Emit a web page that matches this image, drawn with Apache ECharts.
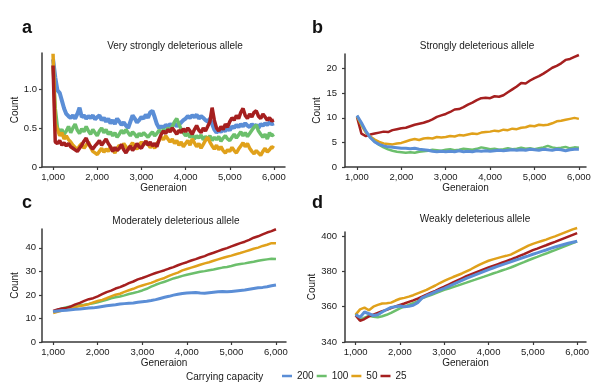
<!DOCTYPE html>
<html><head><meta charset="utf-8">
<script src="https://cdn.jsdelivr.net/npm/echarts@6/dist/echarts.min.js"></script>
<style>html,body{margin:0;padding:0;background:#fff}#c{width:600px;height:390px}</style>
</head><body><div id="c"></div>
<script>
// ---------- DATA ----------
const capacities = ['200', '100', '50', '25'];
const xTickValues = [1000, 2000, 3000, 4000, 5000, 6000];
const panelTitles = ['Very strongly deleterious allele', 'Strongly deleterious allele', 'Moderately deleterious allele', 'Weakly deleterious allele'];
const panelLetters = ['a', 'b', 'c', 'd'];
const yTicksA = [0, 0.5, 1.0];
const yTicksB = [0, 5, 10, 15, 20];
const yTicksC = [0, 10, 20, 30, 40];
const yTicksD = [340, 360, 380, 400];

// generations: panel a sampled every 50, others every 100 (1000..6000)
const gensA = []; for (let g = 1000; g <= 6000; g += 50) gensA.push(g);
const gens = []; for (let g = 1000; g <= 6000; g += 100) gens.push(g);

// Panel a (every 50 generations)
const aBlue = [1.38,1.15,0.98,0.95,0.85,0.75,0.68,0.65,0.63,0.66,
 0.62,0.68,0.76,0.64,0.66,0.62,0.65,0.63,0.66,0.61,
 0.64,0.66,0.60,0.63,0.58,0.62,0.56,0.60,0.55,0.62,
 0.58,0.54,0.57,0.53,0.50,0.58,0.66,0.62,0.57,0.60,
 0.64,0.62,0.67,0.63,0.70,0.72,0.64,0.55,0.50,0.52,
 0.50,0.54,0.52,0.55,0.53,0.56,0.52,0.55,0.57,0.60,
 0.62,0.65,0.63,0.66,0.64,0.67,0.62,0.65,0.63,0.60,
 0.58,0.62,0.55,0.48,0.44,0.47,0.45,0.48,0.46,0.50,
 0.47,0.52,0.50,0.54,0.51,0.55,0.52,0.56,0.53,0.51,
 0.55,0.52,0.54,0.50,0.55,0.53,0.56,0.54,0.57,0.55,
 0.56];
const aGreen = [1.30,0.75,0.50,0.45,0.48,0.42,0.46,0.52,0.44,0.50,
 0.55,0.47,0.43,0.49,0.45,0.52,0.46,0.42,0.48,0.44,
 0.40,0.46,0.50,0.44,0.48,0.42,0.45,0.40,0.44,0.38,
 0.42,0.47,0.43,0.48,0.44,0.40,0.45,0.42,0.38,0.43,
 0.40,0.44,0.41,0.38,0.42,0.45,0.40,0.43,0.47,0.44,
 0.48,0.45,0.50,0.47,0.52,0.58,0.62,0.55,0.48,0.44,
 0.40,0.43,0.38,0.42,0.36,0.40,0.37,0.41,0.35,0.39,
 0.36,0.40,0.34,0.38,0.35,0.39,0.33,0.37,0.40,0.36,
 0.34,0.38,0.42,0.37,0.41,0.45,0.40,0.44,0.39,0.43,
 0.47,0.51,0.54,0.46,0.42,0.38,0.42,0.36,0.44,0.40,
 0.42];
const aYellow = [1.45,0.55,0.48,0.40,0.44,0.36,0.40,0.35,0.32,0.28,
 0.25,0.22,0.27,0.30,0.24,0.28,0.32,0.25,0.20,0.18,
 0.16,0.20,0.24,0.19,0.23,0.20,0.26,0.22,0.18,0.24,
 0.28,0.24,0.30,0.26,0.22,0.27,0.31,0.26,0.23,0.28,
 0.32,0.28,0.33,0.29,0.25,0.28,0.24,0.30,0.34,0.38,
 0.35,0.40,0.36,0.32,0.36,0.30,0.34,0.28,0.32,0.26,
 0.30,0.34,0.28,0.36,0.31,0.26,0.30,0.24,0.29,0.34,
 0.38,0.32,0.27,0.23,0.28,0.22,0.26,0.21,0.18,0.22,
 0.20,0.25,0.21,0.18,0.23,0.27,0.31,0.26,0.30,0.24,
 0.20,0.17,0.21,0.18,0.15,0.20,0.24,0.19,0.22,0.26,
 0.24];
const aRed = [1.30,0.32,0.30,0.34,0.28,0.31,0.27,0.30,0.26,0.24,
 0.22,0.20,0.24,0.28,0.33,0.37,0.30,0.26,0.23,0.27,
 0.30,0.34,0.28,0.32,0.36,0.30,0.26,0.20,0.25,0.21,
 0.24,0.29,0.22,0.18,0.23,0.27,0.21,0.25,0.30,0.26,
 0.24,0.29,0.33,0.28,0.32,0.27,0.30,0.26,0.35,0.42,
 0.46,0.43,0.48,0.45,0.50,0.46,0.42,0.47,0.44,0.49,
 0.45,0.50,0.46,0.42,0.48,0.53,0.47,0.44,0.50,0.46,
 0.52,0.58,0.76,0.60,0.50,0.46,0.52,0.48,0.55,0.51,
 0.58,0.63,0.60,0.66,0.62,0.70,0.75,0.66,0.62,0.68,
 0.64,0.70,0.72,0.65,0.62,0.68,0.64,0.60,0.63,0.59,
 0.60];

// Panel b (every 100 generations)
const bBlue = [10.5,9.0,7.3,6.0,5.1,4.6,4.3,4.1,4.0,3.9,
 3.8,3.8,3.7,3.8,3.6,3.5,3.4,3.2,3.1,3.2,
 3.1,3.2,3.1,3.3,3.1,3.2,3.1,3.3,3.2,3.3,
 3.2,3.3,3.4,3.3,3.4,3.5,3.4,3.5,3.4,3.6,
 3.5,3.4,3.6,3.5,3.4,3.6,3.5,3.3,3.5,3.6,
 3.6];
const bGreen = [10.4,8.8,7.2,6.0,5.2,4.5,4.0,3.6,3.3,3.1,
 3.0,2.9,3.0,2.9,3.1,3.2,3.3,3.5,3.4,3.3,
 3.5,3.6,3.4,3.5,3.7,3.6,3.5,3.7,4.0,3.8,
 3.6,3.7,3.5,3.6,3.8,3.6,3.7,3.9,3.7,3.8,
 3.6,3.8,4.0,4.3,4.0,3.8,3.9,4.1,3.8,4.0,
 3.9];
const bYellow = [10.3,8.5,7.0,6.2,5.6,5.1,4.8,4.7,4.6,4.8,
 4.9,5.2,5.5,5.7,5.5,5.8,5.9,5.8,6.1,6.0,
 6.1,6.3,6.2,6.5,6.4,6.6,6.8,6.7,7.0,7.1,
 7.2,7.4,7.3,7.6,7.5,7.8,7.7,8.0,8.1,8.4,
 8.3,8.6,8.5,8.6,8.9,9.3,9.4,9.6,9.8,10.0,
 9.8];
const bRed = [10.2,6.8,6.3,6.6,6.8,7.0,7.2,7.1,7.5,7.7,
 7.9,8.0,8.3,8.6,8.8,9.0,9.3,9.7,10.2,10.5,
 10.8,11.2,11.7,11.8,12.2,12.7,13.1,13.6,14.0,14.1,
 14.0,14.4,14.3,14.6,15.2,15.8,16.4,17.1,17.0,17.6,
 18.1,18.5,19.0,19.6,20.2,20.6,21.1,21.8,22.0,22.4,
 22.8];

// Panel c
const cBlue = [13.0,13.2,13.4,13.5,13.7,13.9,14.0,14.2,14.4,14.5,
 14.8,15.1,15.4,15.6,15.8,16.1,16.3,16.5,16.6,16.9,
 17.1,17.3,17.6,18.0,18.5,19.0,19.4,19.9,20.3,20.6,
 20.8,20.9,21.0,20.8,20.7,20.9,21.1,21.3,21.4,21.3,
 21.5,21.7,21.9,22.1,22.4,22.7,23.0,23.2,23.5,23.9,
 24.2];
const cGreen = [12.8,13.6,14.3,14.8,15.1,15.3,15.6,15.8,16.1,16.5,
 16.9,17.4,17.9,18.6,19.0,19.3,19.8,20.4,20.8,21.3,
 21.9,22.6,23.5,24.3,25.0,25.6,26.3,27.0,27.5,28.1,
 28.6,29.0,29.4,29.8,30.1,30.5,30.8,31.2,31.6,31.9,
 32.3,32.8,33.1,33.4,33.8,34.1,34.5,34.8,35.1,35.4,
 35.3];
const cYellow = [12.3,12.8,13.4,14.0,14.4,14.8,15.3,15.6,16.1,16.8,
 17.4,17.9,18.6,19.4,20.1,20.5,21.3,22.0,22.6,23.4,
 24.0,24.6,25.1,25.9,26.6,27.2,28.1,28.8,29.5,30.4,
 31.0,31.6,32.2,32.8,33.4,33.9,34.5,35.1,35.7,36.2,
 36.7,37.3,37.8,38.4,39.0,39.6,40.1,40.8,41.3,42.0,
 41.9];
const cRed = [13.2,13.8,14.2,14.5,15.1,16.0,16.6,17.5,18.2,18.6,
 19.4,20.3,21.2,21.8,22.7,23.3,24.1,25.0,25.7,26.6,
 27.2,27.9,28.6,29.3,29.9,30.5,31.2,31.8,32.6,33.3,
 33.9,34.6,35.2,35.9,36.5,37.3,37.9,38.6,39.3,39.9,
 40.6,41.3,42.0,42.6,43.4,44.3,44.9,45.7,46.5,47.1,
 47.9];

// Panel d
const dBlue = [355.5,354.0,357.0,356.0,355.0,355.4,357.0,358.4,359.6,360.0,
 360.4,360.0,360.3,360.8,362.3,365.0,366.2,367.3,368.4,369.4,
 370.4,371.5,372.6,373.8,374.9,376.0,377.0,378.0,379.0,380.0,
 381.0,381.9,382.8,383.7,384.5,385.4,386.3,387.1,388.0,388.8,
 389.7,390.5,391.3,392.1,393.0,393.8,394.5,395.2,395.9,396.5,
 397.1];
const dGreen = [356.0,352.5,353.8,354.8,354.3,354.0,354.6,355.4,356.5,357.8,
 359.0,360.0,361.0,362.0,363.0,364.8,365.7,366.6,367.6,368.5,
 369.5,370.3,371.1,371.9,372.8,373.6,374.5,375.3,376.2,377.0,
 377.9,378.8,379.6,380.5,381.3,382.2,383.2,384.2,385.2,386.3,
 387.3,388.2,389.2,390.1,391.1,392.0,393.0,394.0,395.0,396.0,
 397.0];
const dYellow = [355.5,358.5,359.5,358.0,360.0,361.0,361.8,362.0,362.3,363.5,
 364.5,365.0,365.7,366.5,367.5,368.5,369.5,370.8,372.0,373.4,
 374.6,375.7,376.8,377.8,378.8,380.0,381.2,382.5,383.8,385.0,
 386.0,386.8,387.5,388.2,388.8,389.5,390.7,392.0,393.3,394.6,
 395.6,396.4,397.2,398.0,399.0,399.8,400.8,401.8,402.8,403.8,
 404.6];
const dRed = [355.0,352.0,353.0,354.5,355.5,356.5,357.5,358.2,359.2,360.2,
 361.0,361.8,362.7,363.6,364.6,365.7,366.8,367.9,369.0,370.2,
 371.3,372.5,373.7,374.9,376.1,377.3,378.3,379.3,380.3,381.3,
 382.2,383.1,384.0,384.9,385.8,386.7,387.7,388.8,389.8,390.9,
 392.0,392.9,393.9,394.8,395.8,396.7,397.7,398.7,399.7,400.7,
 401.7];

// ---------- STYLE / LAYOUT ----------
const colorOf = {'200': '#5b8ed6', '100': '#6cbf6c', '50': '#e0a11b', '25': '#a51f1f'};
const FONT = 'Liberation Sans, Arial, sans-serif';
const TXT = '#1a1a1a';
const AX = '#3a3a3a';

const panels = [
  {grid: {left: 42, top: 53, width: 243, height: 114}, xMin: 750, xMax: 6250, yMin: 0, yMax: 1.46, yTicks: yTicksA,
   fmt: v => v === 0 ? '0' : v.toFixed(1), lm: 5, x: gensA, lw: 3.5,
   series: [['200', aBlue], ['100', aGreen], ['50', aYellow], ['25', aRed]]},
  {grid: {left: 345, top: 54, width: 241, height: 113}, xMin: 730, xMax: 6160, yMin: 0, yMax: 23, yTicks: yTicksB,
   fmt: v => String(v), lm: 8, x: gens, lw: 2.5,
   series: [['25', bRed], ['50', bYellow], ['100', bGreen], ['200', bBlue]]},
  {grid: {left: 42, top: 229, width: 244, height: 113}, xMin: 750, xMax: 6225, yMin: 0, yMax: 48, yTicks: yTicksC,
   fmt: v => String(v), lm: 6, x: gens, lw: 2.5,
   series: [['100', cGreen], ['50', cYellow], ['25', cRed], ['200', cBlue]]},
  {grid: {left: 345, top: 232, width: 241, height: 110}, xMin: 760, xMax: 6200, yMin: 340, yMax: 402.3, yTicks: yTicksD,
   fmt: v => String(v), lm: 8, x: gens, lw: 2.5,
   series: [['100', dGreen], ['25', dRed], ['50', dYellow], ['200', dBlue]]}
];

const titlePos = [[175, 46], [477, 46], [176, 221], [475, 219]];
const letterPos = [[22, 28], [312, 28], [22, 203], [312, 203]];

const grids = [], xAxes = [], yAxes = [], series = [], graphics = [];
panels.forEach((p, i) => {
  grids.push(p.grid);
  xAxes.push({
    gridIndex: i, type: 'value', min: p.xMin, max: p.xMax,
    axisLine: {show: true, onZero: false, lineStyle: {color: AX, width: 1.5}},
    axisTick: {show: true, length: 3, customValues: xTickValues, lineStyle: {color: AX, width: 1.2}},
    axisLabel: {customValues: xTickValues, formatter: v => v.toLocaleString('en-US'), color: TXT, fontSize: 9.5, fontFamily: FONT, margin: 5},
    splitLine: {show: false},
    name: 'Generaion', nameLocation: 'middle', nameGap: 16,
    nameTextStyle: {color: TXT, fontSize: 10, fontFamily: FONT}
  });
  yAxes.push({
    gridIndex: i, type: 'value', min: p.yMin, max: p.yMax,
    axisLine: {show: true, onZero: false, lineStyle: {color: AX, width: 1.5}},
    axisTick: {show: true, length: 3, customValues: p.yTicks, lineStyle: {color: AX, width: 1.2}},
    axisLabel: {customValues: p.yTicks, formatter: p.fmt, color: TXT, fontSize: 9.5, fontFamily: FONT, margin: p.lm},
    splitLine: {show: false},
    name: 'Count', nameLocation: 'middle', nameGap: 22,
    nameTextStyle: {color: TXT, fontSize: 10, fontFamily: FONT}
  });
  p.series.forEach(([name, vals]) => {
    series.push({
      name, type: 'line', xAxisIndex: i, yAxisIndex: i,
      data: p.x.map((g, k) => [g, vals[k]]),
      showSymbol: false, symbol: 'none', clip: false, animation: false,
      lineStyle: {color: colorOf[name], width: name === '200' ? p.lw + 0.5 : p.lw},
      itemStyle: {color: colorOf[name]}
    });
  });
  graphics.push({type: 'text', x: titlePos[i][0], y: titlePos[i][1],
    style: {text: panelTitles[i], fill: TXT, font: '10px ' + FONT, textAlign: 'center', textVerticalAlign: 'middle'}});
  graphics.push({type: 'text', x: letterPos[i][0], y: letterPos[i][1],
    style: {text: panelLetters[i], fill: '#111', font: 'bold 18px ' + FONT, textAlign: 'left', textVerticalAlign: 'middle'}});
});
graphics.push({type: 'text', x: 186, y: 377,
  style: {text: 'Carrying capacity', fill: TXT, font: '10px ' + FONT, textAlign: 'left', textVerticalAlign: 'middle'}});

const chart = echarts.init(document.getElementById('c'), null, {renderer: 'canvas'});
chart.setOption({
  backgroundColor: '#fff',
  animation: false,
  grid: grids, xAxis: xAxes, yAxis: yAxes, series,
  legend: {data: capacities, left: 282, top: 371, padding: 0, icon: 'rect', itemWidth: 10, itemHeight: 2.5, itemGap: 3,
    textStyle: {color: TXT, fontSize: 10, fontFamily: FONT}, selectedMode: false},
  graphic: graphics
});
</script></body></html>
